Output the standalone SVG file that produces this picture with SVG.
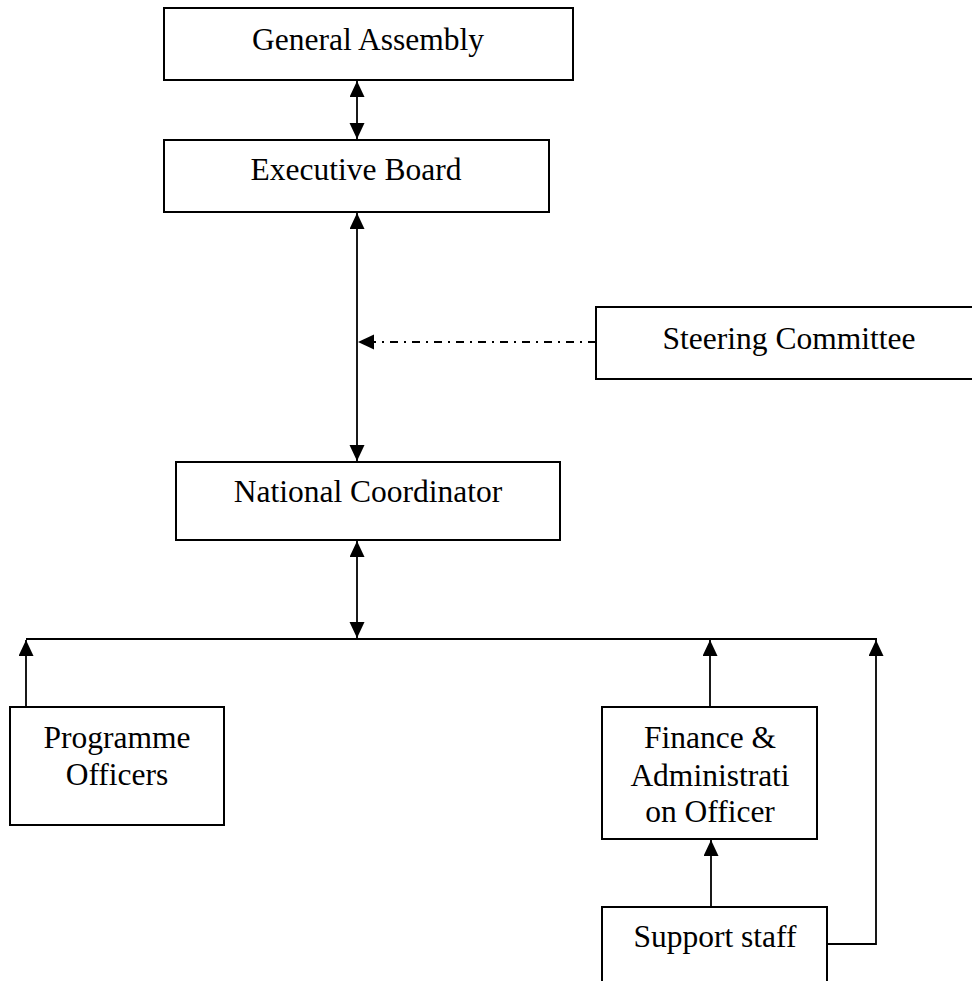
<svg xmlns="http://www.w3.org/2000/svg" width="972" height="981" viewBox="0 0 972 981">
<style>
.box{fill:#fff;stroke:#000;stroke-width:2}
.t{font-family:"Liberation Serif","Times New Roman",serif;font-size:31.5px;fill:#000;text-anchor:middle}
.c{fill:none;stroke:#000;stroke-width:1.8}
.dd{stroke-dasharray:8 6 2 6}
</style>
<defs>
<marker id="ah" markerUnits="userSpaceOnUse" markerWidth="16" markerHeight="16" refX="16" refY="7.5" orient="auto-start-reverse" viewBox="0 0 16 16">
<path d="M0,0 L16,7.5 L0,15 z" fill="#000"/>
</marker>
</defs>
<rect width="972" height="981" fill="#fff"/>
<g id="connectors">
<line class="c" x1="357" y1="81" x2="357" y2="139" marker-start="url(#ah)" marker-end="url(#ah)"/>
<line class="c" x1="357" y1="213" x2="357" y2="461" marker-start="url(#ah)" marker-end="url(#ah)"/>
<line class="c dd" x1="596" y1="342" x2="358" y2="342" marker-end="url(#ah)"/>
<line class="c" x1="357" y1="541" x2="357" y2="638" marker-start="url(#ah)" marker-end="url(#ah)"/>
<line class="c" x1="26" y1="639" x2="877" y2="639"/>
<line class="c" x1="26" y1="707" x2="26" y2="640" marker-end="url(#ah)"/>
<line class="c" x1="710" y1="707" x2="710" y2="640" marker-end="url(#ah)"/>
<line class="c" x1="711" y1="907" x2="711" y2="840" marker-end="url(#ah)"/>
<polyline class="c" points="827,944 876,944 876,640" marker-end="url(#ah)"/>
</g>
<g id="general-assembly">
<rect class="box" x="164" y="8" width="409" height="72"/>
<text class="t" x="368" y="50">General Assembly</text>
</g>
<g id="executive-board">
<rect class="box" x="164" y="140" width="385" height="72"/>
<text class="t" x="356" y="180">Executive Board</text>
</g>
<g id="steering-committee">
<rect class="box" x="596" y="307" width="386" height="72"/>
<text class="t" x="789" y="349">Steering Committee</text>
</g>
<g id="national-coordinator">
<rect class="box" x="176" y="462" width="384" height="78"/>
<text class="t" x="368" y="502">National Coordinator</text>
</g>
<g id="programme-officers">
<rect class="box" x="10" y="707" width="214" height="118"/>
<text class="t" x="117" y="748">Programme</text>
<text class="t" x="117" y="785">Officers</text>
</g>
<g id="finance-admin">
<rect class="box" x="602" y="707" width="215" height="132"/>
<text class="t" x="710" y="748">Finance &amp;</text>
<text class="t" x="710" y="786">Administrati</text>
<text class="t" x="710" y="822">on Officer</text>
</g>
<g id="support-staff">
<rect class="box" x="602" y="907" width="225" height="80"/>
<text class="t" x="715" y="947">Support staff</text>
</g>
</svg>
